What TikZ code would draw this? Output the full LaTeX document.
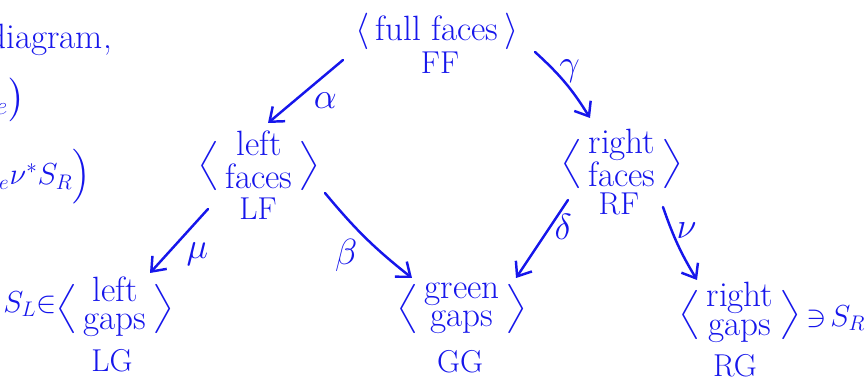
\documentclass[tikz,border=0pt]{standalone}
\usepackage{amsmath}
\usepackage{graphicx}
\usetikzlibrary{positioning,arrows.meta}
\definecolor{inkblue}{RGB}{22,22,235}
\newcommand{\openbr}{\scalebox{1}[.75]{$\Big\langle$}\,}
\newcommand{\closebr}{\,\scalebox{1}[.75]{$\Big\rangle$}}

\begin{document}
\begin{tikzpicture}[x=0.02cm,y=-0.02cm,
		every node/.style={text=inkblue},
		big/.style={font=\fontsize{20}{16}\selectfont,inner sep=1pt},
		side/.style={font=\fontsize{17}{16}\selectfont,inner sep=1pt},
		tag/.style={font=\fontsize{18}{18}\selectfont,inner sep=1pt},
		lbl/.style={font=\fontsize{20}{20}\selectfont,inner sep=2pt},
		hand/.style={draw=inkblue,line width=1.4pt,line cap=round,
			-{Straight Barb[length=7pt,width=11pt]}}]
		\useasboundingbox (0,0) rectangle (865,391);
		
		% cut off notes on the left edge
		\node[big,anchor=east] (diag) at (114,40) {diagram,};
		\node[big,anchor=east] (frag1) at (27,100) {${}_e\big)$};
		\node[side,anchor=east] (frag2) at (93,177) {${}_e\nu^*S_R\Big)$};
		
		% top
		\node[big] (ff) at (437,31) {$\langle$\,full faces\,$\rangle$};
		\node[tag] (fftag) at (440,63) {FF};
		
		% middle row
		\node[big] (lf) at (259,164) {\openbr\begin{tabular}{@{}c@{}}left\\faces\end{tabular}\closebr};
		\node[tag] (lftag) at (258,209) {LF};
		\node[big] (rf) at (622,162) {\openbr\begin{tabular}{@{}c@{}}right\\faces\end{tabular}\closebr};
		\node[tag] (rftag) at (619,204) {RF};
		
		% bottom row
		\node[big] (lg) at (115,307) {\openbr\begin{tabular}{@{}c@{}}left\\gaps\end{tabular}\closebr};
		\node[side] (sl) at (30,304) {$S_L{\in}$};
		\node[tag] (lgtag) at (112,361) {LG};
		\node[big] (gg) at (462,307) {\openbr\begin{tabular}{@{}c@{}}green\\gaps\end{tabular}\closebr};
		\node[tag] (ggtag) at (460,362) {GG};
		\node[big] (rg) at (740,313) {\openbr\begin{tabular}{@{}c@{}}right\\gaps\end{tabular}\closebr};
		\node[side] (sr) at (836,318) {$\ni\!S_R$};
		\node[tag] (rgtag) at (735,366) {RG};
		
		\draw[hand] ([shift={(-94,29)}]ff.center) -- node[lbl,pos=.45,anchor=north west] (alpha) {$\alpha$} ([shift={(9,-41)}]lf.center);
		\draw[hand] ([shift={(98,21)}]ff.center) to[bend left=8] node[lbl,pos=.3,anchor=west] (gamma) {$\gamma$} ([shift={(-32,-44)}]rf.center);
		\draw[hand] ([shift={(-51,45)}]lf.center) -- node[lbl,pos=.45,anchor=north west] (mu) {$\mu$} ([shift={(35,-34)}]lg.center);
		\draw[hand] ([shift={(66,29)}]lf.center) to[bend right=6] node[lbl,pos=.45,anchor=north east] (beta) {$\beta$} ([shift={(-50,-29)}]gg.center);
		\draw[hand] ([shift={(-54,38)}]rf.center) -- node[lbl,pos=.35,anchor=west] (delta) {$\delta$} ([shift={(54,-29)}]gg.center);
		\draw[hand] ([shift={(41,45)}]rf.center) to[bend right=6] node[lbl,pos=.3,anchor=west] (nu) {$\nu$} ([shift={(-43,-33)}]rg.center);
	\end{tikzpicture}
\end{document}
